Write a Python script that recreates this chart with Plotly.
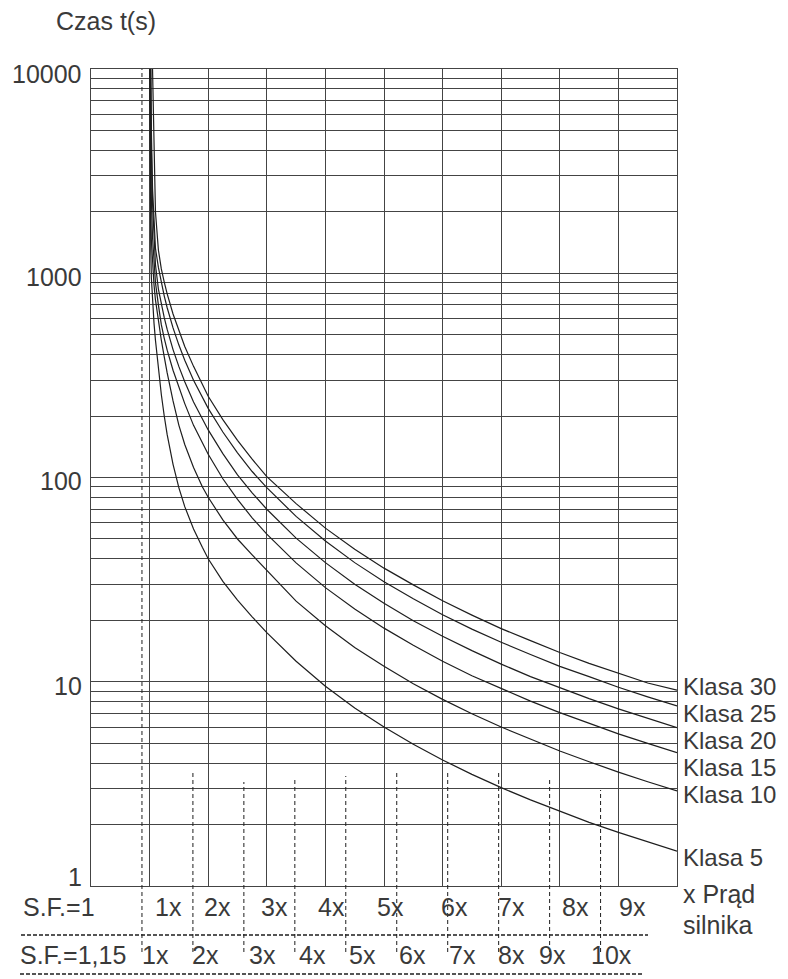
import plotly.graph_objects as go

# ---------------- data ----------------
X_MULT = [1.0, 1.01, 1.02, 1.03, 1.05, 1.075, 1.1, 1.15, 1.2, 1.25, 1.3, 1.4, 1.5, 1.6,
          1.75, 1.9, 2, 2.25, 2.5, 2.75, 3, 3.5, 4, 4.5, 5, 5.5, 6, 6.5, 7, 7.5, 8,
          8.5, 9, 9.5, 10]

KLASA_5 = [15000, 2000, 1300, 950, 720, 570, 470, 340, 255, 200, 162, 116, 89, 72, 56, 45.5,
           40, 31, 25.1, 20.8, 17.4, 12.6, 9.5, 7.44, 6.0, 4.94, 4.14, 3.52, 3.03, 2.64,
           2.32, 2.05, 1.83, 1.64, 1.48]
KLASA_10 = [20000, 2700, 1800, 1450, 1100, 880, 740, 580, 470, 390, 325, 237, 180, 145, 112,
            90, 80, 62, 50, 41.8, 35, 24.8, 18.8, 14.7, 11.9, 9.78, 8.20, 6.97, 6.00,
            5.22, 4.58, 4.06, 3.61, 3.24, 2.92]
KLASA_15 = [25000, 8000, 3500, 2300, 1500, 1100, 900, 700, 560, 480, 420, 335, 275, 230, 180,
            147, 130, 98.6, 78.1, 63.5, 52.8, 38.2, 28.9, 22.7, 18.3, 15.1, 12.6, 10.7, 9.24,
            8.04, 7.06, 6.25, 5.56, 4.99, 4.50]
KLASA_20 = [40000, 15000, 7000, 4000, 2200, 1500, 1100, 837, 703, 606, 531, 423, 349, 294,
            234, 192, 171, 131, 103, 84.1, 69.9, 50.5, 38.3, 30.0, 24.2, 19.9, 16.7, 14.2,
            12.2, 10.6, 9.34, 8.27, 7.37, 6.61, 5.96]
KLASA_25 = [50000, 20000, 9000, 5000, 2600, 1700, 1326, 1068, 898, 773, 678, 540, 445, 375,
            299, 245, 218, 167, 132, 107, 89.2, 64.5, 48.9, 38.3, 30.9, 25.5, 21.3, 18.1,
            15.6, 13.6, 11.9, 10.6, 9.40, 8.43, 7.61]
KLASA_30 = [100000, 50000, 30000, 20000, 10000, 3500, 2000, 1300, 1050, 904, 793, 632, 520,
            438, 350, 283, 250, 192, 152, 123, 101, 74.5, 56.5, 44.5, 36.0, 29.8, 24.9, 21.2,
            18.2, 15.9, 13.9, 12.3, 11.0, 9.86, 9.1]

CLASS_NAMES = ["Klasa 5", "Klasa 10", "Klasa 15", "Klasa 20", "Klasa 25", "Klasa 30"]
CLASS_SERIES = [KLASA_5, KLASA_10, KLASA_15, KLASA_20, KLASA_25, KLASA_30]

Y_TICK_VALUES = [1, 10, 100, 1000, 10000]
Y_TICK_LABELS = ["1", "10", "100", "1000", "10000"]

SF1_LABELS = ["1x", "2x", "3x", "4x", "5x", "6x", "7x", "8x", "9x"]
SF115_LABELS = ["1x", "2x", "3x", "4x", "5x", "6x", "7x", "8x", "9x", "10x"]
SF115_MULTIPLES = [1, 2, 3, 4, 5, 6, 7, 8, 9, 10]
SF115_FACTOR = 1.15

# ---------------- layout helpers ----------------
# the page body adds an 8px margin, so the figure is drawn 8px smaller and shifted
OFF = 8
W, H = 788 - OFF, 979 - OFF
L_PX, R_PX, T_PX, B_PX = 91, 677, 69, 886          # plot box in page pixels
ML, MT = L_PX - OFF, T_PX - OFF
MR, MB = W - (R_PX - OFF), H - (B_PX - OFF)
PW, PH = R_PX - L_PX, B_PX - T_PX


def xp(px):
    return (px - L_PX) / PW


def yp(py):
    return (B_PX - py) / PH


FONT = dict(family="Liberation Sans, Arial, sans-serif", size=25, color="#3a3a3a")
FONT_CLASS = dict(FONT, size=24)
GRID = "#444444"
INK = "#1e1e1e"

fig = go.Figure()
for name, vals in zip(CLASS_NAMES, CLASS_SERIES):
    fig.add_trace(go.Scatter(x=X_MULT, y=vals, mode="lines", name=name,
                             line=dict(color=INK, width=1.2), showlegend=False,
                             hoverinfo="skip"))

minor_ticks = []
for dec in [1, 10, 100, 1000]:
    for m in range(1, 10):
        minor_ticks.append(m * dec)
minor_ticks.append(10000)

fig.update_layout(
    width=W, height=H,
    margin=dict(l=ML, r=MR, t=MT, b=MB, pad=0),
    paper_bgcolor="white", plot_bgcolor="white",
    font=FONT,
    xaxis=dict(range=[0, 10], dtick=1, tick0=0, showgrid=True, gridcolor=GRID,
               gridwidth=1, zeroline=False, showline=True, mirror=True,
               linecolor=GRID, linewidth=1, showticklabels=False, ticks=""),
    yaxis=dict(type="log", range=[0, 4], tickmode="array", tickvals=minor_ticks,
               showgrid=True, gridcolor=GRID, gridwidth=1, zeroline=False,
               showline=True, mirror=True, linecolor=GRID, linewidth=1,
               showticklabels=False, ticks=""),
)

shapes = []
# dashed S.F.=1.15 multiples
DASH_TOP_PX = [T_PX, 770, 782, 778, 776, 773, 773, 773, 780, 790]
for k, top in zip(SF115_MULTIPLES, DASH_TOP_PX):
    shapes.append(dict(type="line", xref="x", yref="paper",
                       x0=k / SF115_FACTOR, x1=k / SF115_FACTOR,
                       y0=yp(952), y1=yp(top),
                       line=dict(color=INK, width=1, dash="4px,3px")))
# dashed separators under the two scale rows
shapes.append(dict(type="line", xref="paper", yref="paper", x0=xp(21), x1=xp(648),
                   y0=yp(935), y1=yp(935), line=dict(color=INK, width=1.4, dash="4px,2px")))
shapes.append(dict(type="line", xref="paper", yref="paper", x0=xp(20), x1=xp(643),
                   y0=yp(974), y1=yp(974), line=dict(color=INK, width=1.4, dash="4px,2px")))
fig.update_layout(shapes=shapes)

ann = []


def text(s, px, py, anchor="center", font=FONT):
    ann.append(dict(text=s, xref="paper", yref="paper", x=xp(px), y=yp(py),
                    xanchor=anchor, yanchor="middle", showarrow=False, font=font,
                    borderpad=0))


# title of the y axis
text("Czas t(s)", 55, 21, "left")
# y tick labels
Y_LABEL_PX = [877, 686, 481, 277, 74]
for lab, py in zip(Y_TICK_LABELS, Y_LABEL_PX):
    text(lab, 83, py, "right")
# class labels at the right
CLASS_LABEL_PX = [857, 794, 767, 740, 713, 686]
for name, py in zip(CLASS_NAMES, CLASS_LABEL_PX):
    text(name, 682, py, "left", FONT_CLASS)
text("x Prąd", 682, 894, "left")
text("silnika", 682, 925, "left")
# scale rows
text("S.F.=1", 22, 907, "left")
SF1_PX = [168, 217, 274, 331, 390, 454, 511, 575, 632]
for lab, px in zip(SF1_LABELS, SF1_PX):
    text(lab, px, 907)
text("S.F.=1,15", 19, 955, "left")
SF115_PX = [155, 205, 262, 312, 362, 412, 462, 511, 552, 611]
for lab, px in zip(SF115_LABELS, SF115_PX):
    text(lab, px, 955)

fig.update_layout(annotations=ann)
fig.write_html("out.html")
